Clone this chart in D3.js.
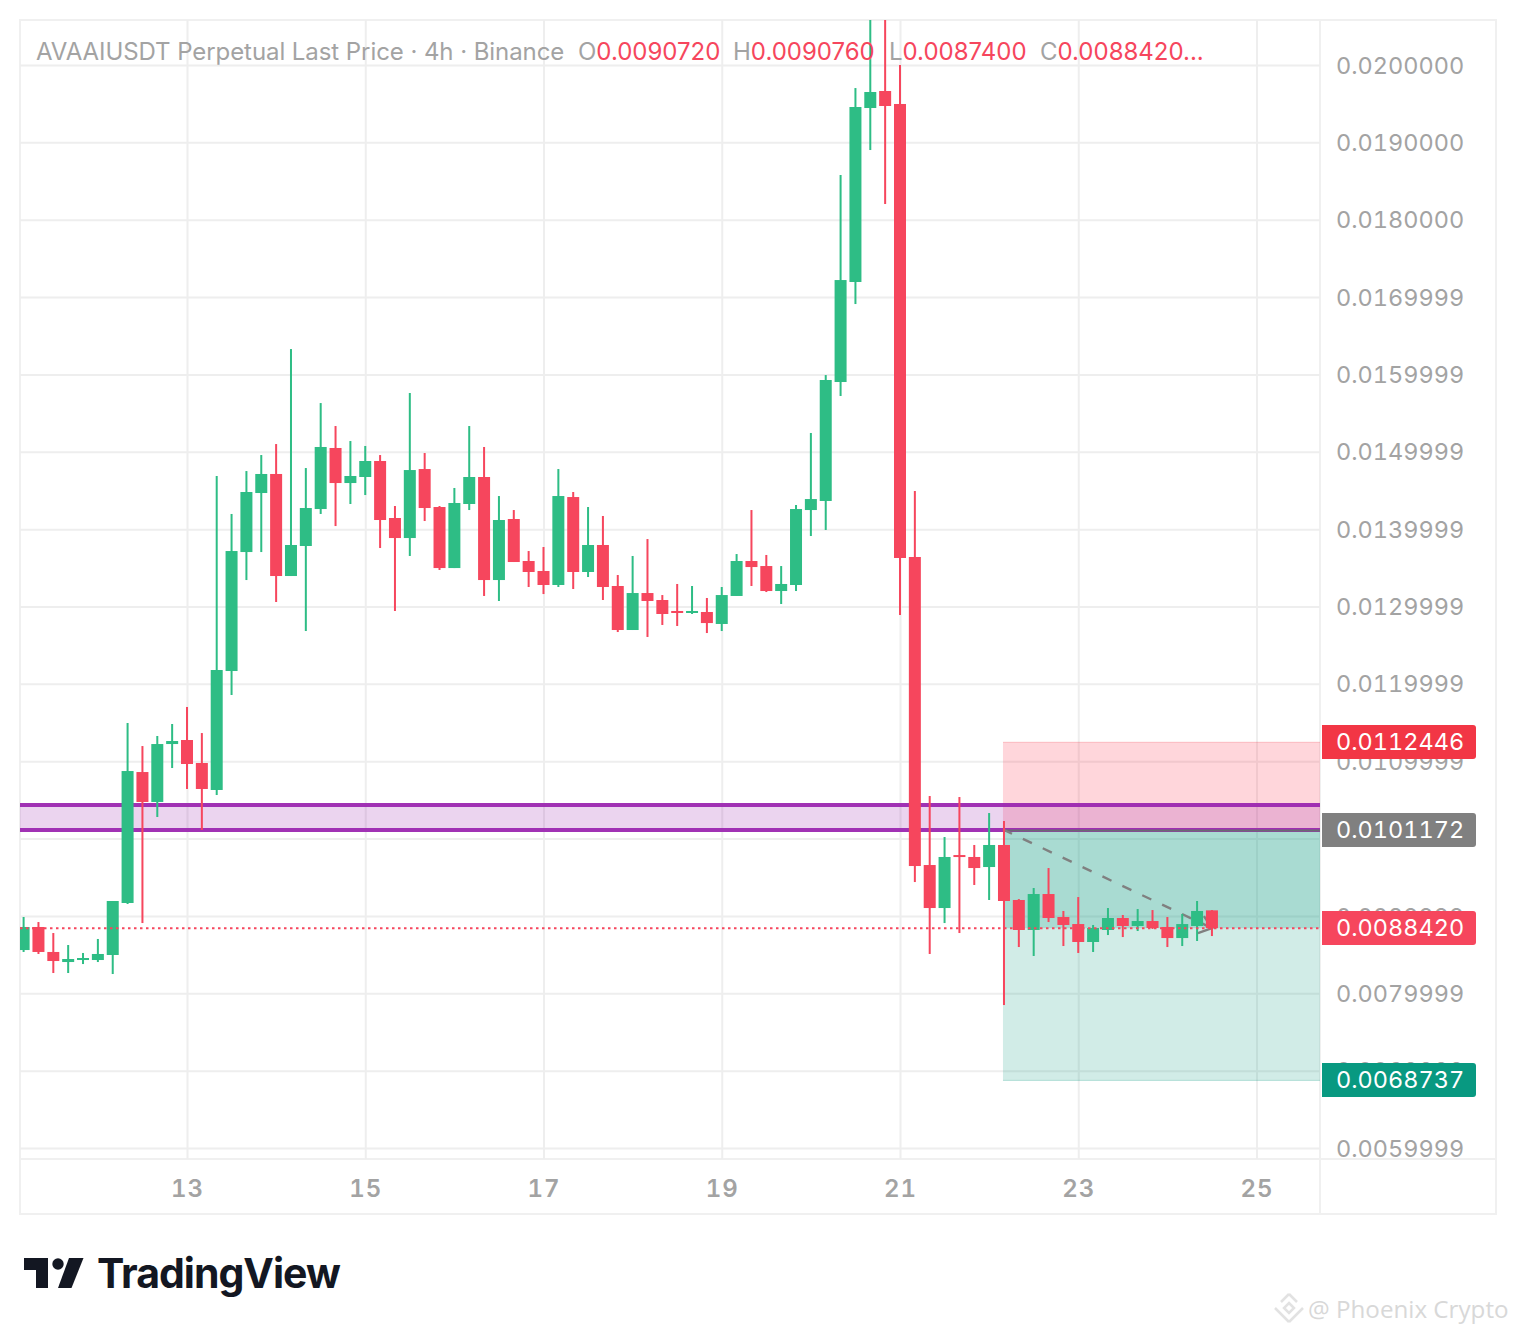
<!DOCTYPE html>
<html>
<head>
<meta charset="utf-8">
<script src="https://cdn.jsdelivr.net/npm/d3@7"></script>
<style>
  html, body { margin: 0; padding: 0; background: #fff; }
  svg { display: block; font-family: Inter, sans-serif; }
  .domain { display: none; }
  .grid line { stroke: #eeeeee; stroke-width: 2; }
  .price-axis text { fill: #a3a3a3; font-size: 23.5px; font-variant-numeric: tabular-nums; font-family: Inter, sans-serif; }
  .time-axis text { fill: #a3a3a3; font-size: 24px; font-weight: 600; letter-spacing: 1.1px; font-variant-numeric: tabular-nums; font-family: Inter, sans-serif; }
  .legend text { font-size: 24px; }
</style>
</head>
<body>
<svg id="chart" width="1516" height="1334"></svg>
<script>
// one candle every 4 hours, first candle at 11 Jan 04:00
const firstBar = Date.UTC(2025, 0, 11, 4);
const barMs = 4 * 3600 * 1000;

const opens = [
  0.008559, 0.008857, 0.008534, 0.008404, 0.008430, 0.008430, 0.008495, 0.009167, 0.010860, 0.010473,
  0.011222, 0.011274, 0.010977, 0.010628, 0.012166, 0.013704, 0.014467, 0.014713, 0.013394, 0.013782,
  0.014260, 0.015049, 0.014596, 0.014674, 0.014881, 0.014144, 0.013885, 0.014777, 0.014286, 0.013497,
  0.014325, 0.014674, 0.013342, 0.014131, 0.013588, 0.013459, 0.013278, 0.014415, 0.013446, 0.013795,
  0.013265, 0.012696, 0.013174, 0.013084, 0.012942, 0.012916, 0.012929, 0.012774, 0.013136, 0.013588,
  0.013523, 0.013200, 0.013278, 0.014247, 0.014364, 0.015902, 0.017195, 0.019444, 0.019664, 0.019496,
  0.013640, 0.009658, 0.009102, 0.009787, 0.009762, 0.009632, 0.009917, 0.009206, 0.008818, 0.009283,
  0.008986, 0.008895, 0.008663, 0.008818, 0.008973, 0.008870, 0.008934, 0.008857, 0.008714, 0.008870,
  0.009072
];
const highs = [
  0.008986, 0.008921, 0.008779, 0.008624, 0.008521, 0.008702, 0.009193, 0.011494, 0.011196, 0.011326,
  0.011481, 0.011701, 0.011364, 0.014687, 0.014196, 0.014751, 0.014958, 0.015100, 0.016328, 0.014790,
  0.015630, 0.015333, 0.015139, 0.015075, 0.014958, 0.014299, 0.015760, 0.014984, 0.014299, 0.014532,
  0.015333, 0.015062, 0.014428, 0.014247, 0.013717, 0.013769, 0.014777, 0.014480, 0.014286, 0.014170,
  0.013407, 0.013653, 0.013872, 0.013148, 0.013291, 0.013265, 0.013110, 0.013252, 0.013678, 0.014247,
  0.013666, 0.013523, 0.014312, 0.015243, 0.015992, 0.018578, 0.019702, 0.021000, 0.021200, 0.020000,
  0.014493, 0.010550, 0.010020, 0.010537, 0.009917, 0.010330, 0.010227, 0.009218, 0.009361, 0.009619,
  0.009064, 0.009244, 0.008883, 0.009102, 0.009012, 0.009089, 0.009076, 0.008986, 0.009025, 0.009193,
  0.009076
];
const lows = [
  0.008534, 0.008508, 0.008262, 0.008262, 0.008378, 0.008404, 0.008249, 0.009154, 0.008908, 0.010279,
  0.010912, 0.010641, 0.010111, 0.010563, 0.011856, 0.013342, 0.013704, 0.013058, 0.013394, 0.012683,
  0.014196, 0.014040, 0.014325, 0.014441, 0.013756, 0.012942, 0.013653, 0.014105, 0.013472, 0.013497,
  0.014247, 0.013136, 0.013071, 0.013575, 0.013252, 0.013161, 0.013252, 0.013226, 0.013381, 0.013084,
  0.012670, 0.012696, 0.012606, 0.012761, 0.012748, 0.012903, 0.012657, 0.012683, 0.013136, 0.013265,
  0.013187, 0.013032, 0.013200, 0.013911, 0.013989, 0.015721, 0.016910, 0.018901, 0.018203, 0.012890,
  0.009438, 0.008508, 0.008908, 0.008779, 0.009400, 0.009206, 0.007848, 0.008598, 0.008482, 0.008921,
  0.008611, 0.008521, 0.008534, 0.008753, 0.008727, 0.008805, 0.008831, 0.008598, 0.008611, 0.008676,
  0.008740
];
const closes = [
  0.008857, 0.008534, 0.008417, 0.008443, 0.008456, 0.008508, 0.009193, 0.010873, 0.010473, 0.011222,
  0.011261, 0.010964, 0.010641, 0.012179, 0.013717, 0.014480, 0.014713, 0.013394, 0.013795, 0.014273,
  0.015062, 0.014596, 0.014687, 0.014881, 0.014118, 0.013885, 0.014764, 0.014273, 0.013497, 0.014338,
  0.014674, 0.013342, 0.014118, 0.013575, 0.013446, 0.013278, 0.014428, 0.013446, 0.013795, 0.013252,
  0.012696, 0.013174, 0.013071, 0.012903, 0.012916, 0.012942, 0.012786, 0.013148, 0.013588, 0.013510,
  0.013200, 0.013291, 0.014260, 0.014389, 0.015928, 0.017220, 0.019457, 0.019651, 0.019470, 0.013627,
  0.009645, 0.009102, 0.009762, 0.009762, 0.009619, 0.009917, 0.009193, 0.008818, 0.009283, 0.008973,
  0.008883, 0.008663, 0.008844, 0.008973, 0.008870, 0.008934, 0.008844, 0.008714, 0.008895, 0.009064,
  0.008842
];

const priceTicks = [
  0.0200000, 0.0190000, 0.0180000, 0.0169999, 0.0159999, 0.0149999, 0.0139999, 0.0129999,
  0.0119999, 0.0109999, 0.0099999, 0.0089999, 0.0079999, 0.0069999, 0.0059999
];
const dayTicks = [13, 15, 17, 19, 21, 23, 25];

const lastPrice = 0.0088420;
const zoneTop = 0.010434;
const zoneBottom = 0.010111;
const stopPrice = 0.0112446;
const entryPrice = 0.0101172;
const targetPrice = 0.0068737;
const positionStartBar = 66;
const lastBar = 80;

const priceBoxes = [
  { price: stopPrice, fill: "#f23645" },
  { price: entryPrice, fill: "#808080" },
  { price: lastPrice, fill: "#f6465d" },
  { price: targetPrice, fill: "#089981" }
];

const up = "#2ebd85";
const down = "#f6465d";

const paneLeft = 20, paneRight = 1320, paneTop = 20, paneBottom = 1159;
const outerRight = 1496, outerBottom = 1214;

const svg = d3.select("#chart");

const x = d3.scaleUtc()
  .domain([Date.UTC(2025, 0, 13), Date.UTC(2025, 0, 25)])
  .range([187, 1256.5]);
const y = d3.scaleLinear()
  .domain([0.02, 0.0059999])
  .range([65, 1148]);
const barX = i => x(firstBar + i * barMs);

svg.append("clipPath").attr("id", "pane")
  .append("rect")
  .attr("x", paneLeft).attr("y", paneTop)
  .attr("width", paneRight - paneLeft).attr("height", paneBottom - paneTop);

// frame
const frame = svg.append("g").attr("fill", "none").attr("stroke", "#f0f0f0").attr("stroke-width", 2);
frame.append("rect").attr("x", paneLeft).attr("y", paneTop)
  .attr("width", outerRight - paneLeft).attr("height", outerBottom - paneTop);
frame.append("line").attr("x1", paneRight).attr("x2", paneRight).attr("y1", paneTop).attr("y2", outerBottom);
frame.append("line").attr("x1", paneLeft).attr("x2", outerRight).attr("y1", paneBottom).attr("y2", paneBottom);

// grid
svg.append("g").attr("class", "grid")
  .attr("transform", `translate(0,${paneTop})`)
  .call(d3.axisBottom(x)
    .tickValues(dayTicks.map(d => Date.UTC(2025, 0, d)))
    .tickSize(paneBottom - paneTop)
    .tickFormat(""));
svg.append("g").attr("class", "grid")
  .attr("transform", `translate(${paneLeft},0)`)
  .call(d3.axisRight(y)
    .tickValues(priceTicks)
    .tickSize(paneRight - paneLeft)
    .tickFormat(""));

const chart = svg.append("g").attr("clip-path", "url(#pane)");

// long/short tool
const posX = barX(positionStartBar) - 1;
chart.append("rect")
  .attr("x", posX).attr("width", paneRight - posX)
  .attr("y", y(stopPrice)).attr("height", y(entryPrice) - y(stopPrice))
  .attr("fill", "#ff324b").attr("fill-opacity", 0.2);
chart.append("rect")
  .attr("x", posX).attr("width", paneRight - posX)
  .attr("y", y(entryPrice)).attr("height", y(targetPrice) - y(entryPrice))
  .attr("fill", "#089981").attr("fill-opacity", 0.19);
chart.append("rect")
  .attr("x", posX).attr("width", paneRight - posX)
  .attr("y", y(entryPrice)).attr("height", y(lastPrice) - y(entryPrice))
  .attr("fill", "#089981").attr("fill-opacity", 0.2);
chart.append("line")
  .attr("x1", posX).attr("x2", paneRight)
  .attr("y1", y(stopPrice)).attr("y2", y(stopPrice))
  .attr("stroke", "#f23645").attr("stroke-opacity", 0.25);
chart.append("line")
  .attr("x1", posX).attr("x2", paneRight)
  .attr("y1", y(targetPrice)).attr("y2", y(targetPrice))
  .attr("stroke", "#089981").attr("stroke-opacity", 0.25);

// purple zone
chart.append("rect")
  .attr("x", paneLeft).attr("width", paneRight - paneLeft)
  .attr("y", y(zoneTop)).attr("height", y(zoneBottom) - y(zoneTop))
  .attr("fill", "#9c27b0").attr("fill-opacity", 0.2);
[zoneTop, zoneBottom].forEach(p => {
  chart.append("line")
    .attr("x1", paneLeft).attr("x2", paneRight)
    .attr("y1", y(p)).attr("y2", y(p))
    .attr("stroke", "#9c27b0").attr("stroke-opacity", 0.95).attr("stroke-width", 4);
});
chart.append("line")
  .attr("x1", posX).attr("x2", paneRight)
  .attr("y1", y(entryPrice) + 1).attr("y2", y(entryPrice) + 1)
  .attr("stroke", "#6a6a72").attr("stroke-width", 2);

// dashed line from entry to close with its arrow head
const lineEnd = [barX(lastBar), y(lastPrice)];
chart.append("line")
  .attr("x1", posX).attr("y1", y(entryPrice))
  .attr("x2", lineEnd[0]).attr("y2", lineEnd[1])
  .attr("stroke", "#808080").attr("stroke-width", 2.4).attr("stroke-dasharray", "10 12");
chart.append("path")
  .attr("d", `M${lineEnd[0] - 14},${lineEnd[1] + 5} L${lineEnd[0]},${lineEnd[1]} L${lineEnd[0] - 8},${lineEnd[1] - 12}`)
  .attr("fill", "none").attr("stroke", "#808080").attr("stroke-width", 2.4);

// candles
const candles = d3.range(opens.length).map(i => ({
  i, open: opens[i], high: highs[i], low: lows[i], close: closes[i]
}));
const bars = chart.selectAll(".candle")
  .data(candles)
  .enter()
  .append("g")
  .attr("class", "candle")
  .attr("fill", d => d.close >= d.open ? up : down);
bars.append("rect")
  .attr("x", d => barX(d.i) - 1)
  .attr("width", 2)
  .attr("y", d => y(d.high))
  .attr("height", d => y(d.low) - y(d.high));
bars.append("rect")
  .attr("x", d => barX(d.i) - 6)
  .attr("width", 12)
  .attr("y", d => y(Math.max(d.open, d.close)))
  .attr("height", d => Math.max(2, Math.abs(y(d.open) - y(d.close))));

// last price line
chart.append("line")
  .attr("x1", paneLeft).attr("x2", paneRight)
  .attr("y1", y(lastPrice)).attr("y2", y(lastPrice))
  .attr("stroke", down).attr("stroke-width", 2).attr("stroke-dasharray", "2.5 3.5");

// axes
svg.append("g").attr("class", "price-axis")
  .attr("transform", `translate(${paneRight - 1},0.6)`)
  .call(d3.axisRight(y).tickValues(priceTicks).tickSize(0).tickPadding(17).tickFormat(d3.format(".7f")));
svg.append("g").attr("class", "time-axis")
  .attr("transform", `translate(0,${paneBottom + 3.5})`)
  .call(d3.axisBottom(x)
    .tickValues(dayTicks.map(d => Date.UTC(2025, 0, d)))
    .tickSize(0).tickPadding(17)
    .tickFormat(d3.utcFormat("%-d")));

// price boxes
const boxes = svg.selectAll(".price-box")
  .data(priceBoxes)
  .enter()
  .append("g")
  .attr("class", "price-box")
  .attr("transform", d => `translate(${paneRight + 2},${Math.round(y(d.price) + 0.05)})`);
boxes.append("path")
  .attr("d", "M0,-17 H151 a3,3 0 0 1 3,3 V14 a3,3 0 0 1 -3,3 H0 Z")
  .attr("fill", d => d.fill);
boxes.append("text")
  .attr("x", 14).attr("dy", "0.35em")
  .attr("fill", "#fff")
  .attr("font-size", 23.5).style("font-variant-numeric", "tabular-nums")
  .text(d => d3.format(".7f")(d.price));

// legend
const legend = svg.append("g").attr("class", "legend");
legend.append("text").attr("x", 36).attr("y", 60).attr("fill", "#a3a3a3")
  .attr("letter-spacing", -0.07)
  .text("AVAAIUSDT Perpetual Last Price · 4h · Binance");
[["O", 578, "0.0090720"], ["H", 733, "0.0090760"], ["L", 889, "0.0087400"], ["C", 1040, "0.0088420..."]]
  .forEach(([k, px, v]) => {
    const t = legend.append("text").attr("x", px).attr("y", 60).attr("fill", "#a3a3a3");
    t.append("tspan").text(k);
    t.append("tspan").attr("fill", down).text(v);
  });

// TradingView mark
const mark = svg.append("g").attr("fill", "#131722");
mark.append("path").attr("d", "M24,1258 H48 V1288 H36 V1270 H24 Z");
mark.append("circle").attr("cx", 58).attr("cy", 1264).attr("r", 5.7);
mark.append("path").attr("d", "M69,1258 H83.5 L71.5,1288 H58 Z");
mark.append("text").attr("x", 97).attr("y", 1288)
  .attr("font-size", 41).attr("font-weight", 650).attr("letter-spacing", -1)
  .text("TradingView");

// watermark
const wm = svg.append("g").attr("transform", "translate(1289,1308)")
  .attr("fill", "none").attr("stroke", "#e2e2e2").attr("stroke-width", 2.5);
wm.append("path").attr("d", "M0,-14 L8,-6 M0,-14 L-8,-6 M14,0 L8,6 M-14,0 L-8,6 M0,14 L8,6 M0,14 L-8,6");
wm.append("path").attr("d", "M0,-5 L5,0 L0,5 L-5,0 Z");
svg.append("text").attr("x", 1308).attr("y", 1318)
  .attr("fill", "#d8d8d8").attr("font-family", "'Open Sans', sans-serif").attr("font-size", 24.2)
  .text("@ Phoenix Crypto");
</script>
</body>
</html>
